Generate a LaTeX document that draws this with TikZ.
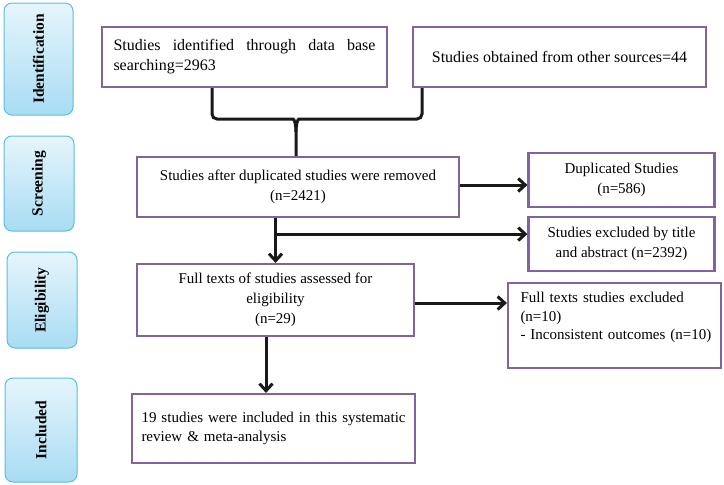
\documentclass[tikz,border=0pt]{standalone}
\usepackage{fontspec}
\setmainfont{Liberation Serif}
\usepackage{graphicx}
\usepackage{tikz}
\usetikzlibrary{arrows.meta}

\definecolor{boxpurple}{HTML}{8064A2}
\definecolor{stageedge}{HTML}{5BBDE0}
\definecolor{stagetop}{HTML}{E6F5FC}
\definecolor{stagebot}{HTML}{A8DCF3}

\begin{document}
\begin{tikzpicture}[x=1pt, y=-1pt,
    stage/.style={draw=stageedge, line width=1pt, rounded corners=8pt,
        top color=stagetop, bottom color=stagebot, inner sep=0pt,
        font=\fontsize{15.5}{18}\selectfont\bfseries},
    flow/.style={draw=boxpurple, line width=2.2pt, fill=white, inner sep=0pt,
        align=center, font=\fontsize{15}{20}\selectfont},
    link/.style={line width=3pt, black!90},
    linkarrow/.style={link, -{Straight Barb[length=7pt,width=13pt]}}]
    \useasboundingbox (0,0) rectangle (724,485);

    % stages on the left
    \node[stage, minimum width=69, minimum height=112] (ident) at (38.5,59) {\rotatebox{90}{Identification}};
    \node[stage, minimum width=70, minimum height=95] (screen) at (39,183.5) {\rotatebox{90}{Screening}};
    \node[stage, minimum width=70, minimum height=96] (elig) at (42,300) {\rotatebox{90}{Eligibility}};
    \node[stage, minimum width=72, minimum height=104] (included) at (41,430) {\rotatebox{90}{Included}};

    % flow boxes
    \node[flow, minimum width=285, minimum height=60, text width=262, align=justify,
        font=\fontsize{16}{20}\selectfont] (db) at (244.5,57) {Studies identified through data base searching=2963};
    \node[flow, minimum width=293, minimum height=60,
        font=\fontsize{16}{20}\selectfont] (other) at (559.5,57) {Studies obtained from other sources=44};
    \node[flow, minimum width=322, minimum height=60] (dedup) at (298,187) {Studies after duplicated studies were removed\\(n=2421)};
    \node[flow, minimum width=186, minimum height=54] (dup) at (621.5,180) {Duplicated Studies\\(n=586)};
    \node[flow, minimum width=186, minimum height=54] (excl) at (621.5,244) {Studies excluded by title\\and abstract (n=2392)};
    \node[flow, minimum width=277, minimum height=72] (full) at (275.5,300) {Full texts of studies assessed for\\eligibility\\(n=29)};
    \node[flow, minimum width=213, minimum height=85, text width=200, align=left,
        font=\fontsize{15}{18.5}\selectfont] (fte) at (614.5,325.5) {\hspace*{6pt}Full texts studies excluded\\\hspace*{6pt}(n=10)\\\hspace*{6pt}- Inconsistent outcomes (n=10)\\\mbox{}};
    \node[flow, minimum width=283, minimum height=69, text width=272, align=left,
        font=\fontsize{15}{19}\selectfont] (final) at (273.5,428.5) {\hspace*{4pt}19 studies were included in this systematic\\\hspace*{4pt}review \& meta-analysis};

    % brace joining the two sources
    \coordinate (bend) at (296,119);
    \draw[link] ([xshift=-32.5]db.south) [rounded corners=5pt] |- ([xshift=-8]bend) [sharp corners]
        .. controls ([xshift=-2]bend) and ([yshift=-4]bend) .. ([yshift=-13]bend) -- (dedup.north -| bend);
    \draw[link] ([xshift=-137.5]other.south) [rounded corners=5pt] |- ([xshift=8]bend) [sharp corners]
        .. controls ([xshift=2]bend) and ([yshift=-4]bend) .. ([yshift=-13]bend);

    % arrows
    \draw[linkarrow] ([yshift=2]dedup.east) -- ([yshift=2]dedup.east -| dup.west);
    \draw[linkarrow] (dedup.south -| full.north) -- (full.north);
    \coordinate (branch) at ([yshift=-16]dedup.south -| full.north);
    \draw[linkarrow] (branch) -- (branch -| excl.west);
    \draw[linkarrow] ([yshift=-3]full.east) -- ([yshift=-3]full.east -| fte.west);
    \draw[linkarrow] ([xshift=-9.5]full.south) -- ([xshift=-9.5]full.south |- final.north);
\end{tikzpicture}
\end{document}
